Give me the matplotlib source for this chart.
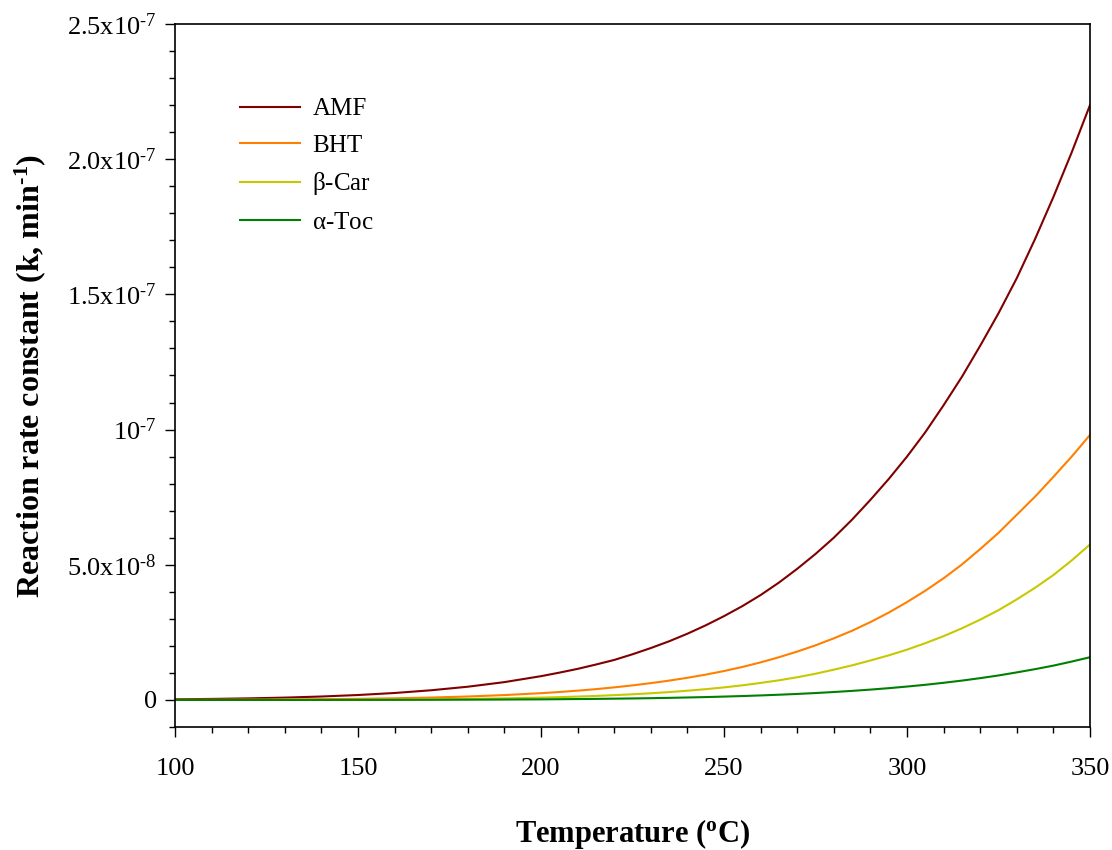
import matplotlib
matplotlib.use("Agg")
import matplotlib.pyplot as plt
from matplotlib.ticker import MultipleLocator

plt.rcParams['font.family'] = ['Liberation Serif', 'DejaVu Serif']
plt.rcParams['mathtext.fontset'] = 'custom'
plt.rcParams['mathtext.rm'] = 'Liberation Serif'
plt.rcParams['mathtext.it'] = 'Liberation Serif:italic'
plt.rcParams['mathtext.bf'] = 'Liberation Serif:bold'

# --- données ---
temps = [100, 110, 120, 130, 140, 150, 160, 170, 180, 190,
         200, 205, 210, 215, 220, 225, 230, 235, 240, 245, 250, 255, 260, 265,
         270, 275, 280, 285, 290, 295, 300, 305, 310, 315, 320, 325, 330, 335,
         340, 345, 350]
amf = [2.5e-10, 3.9e-10, 5.9e-10, 8.7e-10, 1.28e-9, 1.83e-9, 2.58e-9, 3.59e-9,
       4.9e-9, 6.6e-9,
       8.8e-9, 1.01e-8, 1.15e-8, 1.31e-8, 1.48e-8, 1.69e-8, 1.92e-8, 2.17e-8,
       2.45e-8, 2.76e-8, 3.1e-8, 3.47e-8, 3.88e-8, 4.34e-8, 4.85e-8, 5.4e-8,
       6.0e-8, 6.67e-8, 7.4e-8, 8.17e-8, 9.0e-8, 9.9e-8, 1.09e-7, 1.195e-7,
       1.31e-7, 1.43e-7, 1.56e-7, 1.705e-7, 1.86e-7, 2.025e-7, 2.2e-7]
bht = [4.3e-11, 7.0e-11, 1.14e-10, 1.79e-10, 2.76e-10, 4.16e-10, 6.2e-10,
       9.0e-10, 1.28e-9, 1.81e-9,
       2.51e-9, 2.94e-9, 3.44e-9, 4.0e-9, 4.66e-9, 5.39e-9, 6.23e-9, 7.15e-9,
       8.2e-9, 9.37e-9, 1.07e-8, 1.22e-8, 1.39e-8, 1.58e-8, 1.79e-8, 2.02e-8,
       2.28e-8, 2.56e-8, 2.88e-8, 3.23e-8, 3.62e-8, 4.04e-8, 4.5e-8, 5.01e-8,
       5.58e-8, 6.18e-8, 6.85e-8, 7.52e-8, 8.25e-8, 9.0e-8, 9.8e-8]
beta_car = [8e-12, 1.5e-11, 2.5e-11, 4.2e-11, 6.9e-11, 1.11e-10, 1.74e-10,
            2.7e-10, 4.0e-10, 6.0e-10,
            8.7e-10, 1.04e-9, 1.25e-9, 1.49e-9, 1.78e-9, 2.1e-9, 2.48e-9,
            2.91e-9, 3.42e-9, 3.99e-9, 4.65e-9, 5.41e-9, 6.3e-9, 7.27e-9,
            8.4e-9, 9.7e-9, 1.12e-8, 1.28e-8, 1.46e-8, 1.65e-8, 1.86e-8,
            2.1e-8, 2.36e-8, 2.65e-8, 2.97e-8, 3.32e-8, 3.72e-8, 4.15e-8,
            4.62e-8, 5.16e-8, 5.75e-8]
alpha_toc = [2e-12, 4e-12, 7e-12, 1.1e-11, 1.8e-11, 3.0e-11, 4.6e-11, 7.2e-11,
             1.08e-10, 1.6e-10,
             2.3e-10, 2.8e-10, 3.4e-10, 4.0e-10, 4.8e-10, 5.6e-10, 6.6e-10,
             7.8e-10, 9.2e-10, 1.07e-9, 1.25e-9, 1.45e-9, 1.68e-9, 1.94e-9,
             2.23e-9, 2.56e-9, 2.94e-9, 3.36e-9, 3.83e-9, 4.36e-9, 4.96e-9,
             5.61e-9, 6.35e-9, 7.16e-9, 8.07e-9, 9.06e-9, 1.02e-8, 1.14e-8,
             1.27e-8, 1.42e-8, 1.58e-8]

series_names = ['AMF', 'BHT', r'$\mathregular{\beta}$-Car', r'$\mathregular{\alpha}$-Toc']
series_colors = ['#800000', '#ff8000', '#c8c800', '#008000']

HY = '\u2010'  # trait court pour les exposants
ytick_values = [0, 5.0e-8, 1e-7, 1.5e-7, 2.0e-7, 2.5e-7]
ytick_labels = ['0', '5.0x10$^{\\mathregular{' + HY + '8}}$',
                '10$^{\\mathregular{' + HY + '7}}$',
                '1.5x10$^{\\mathregular{' + HY + '7}}$',
                '2.0x10$^{\\mathregular{' + HY + '7}}$',
                '2.5x10$^{\\mathregular{' + HY + '7}}$']

fig = plt.figure(figsize=(11.12, 8.5), dpi=100)
ax = fig.add_axes([0.1574, 0.1447, 0.8228, 0.8271])

for values, name, color in zip([amf, bht, beta_car, alpha_toc], series_names, series_colors):
    ax.plot(temps, values, color=color, linewidth=1.5, label=name)

ax.set_xlim(100, 350)
ax.set_ylim(-1e-8, 2.5e-7)
ax.set_xticks([100, 150, 200, 250, 300, 350])
ax.xaxis.set_minor_locator(MultipleLocator(10))
ax.set_yticks(ytick_values)
ax.set_yticklabels(ytick_labels)
ax.yaxis.set_minor_locator(MultipleLocator(1e-8))

ax.tick_params(which='both', direction='out', top=False, right=False, width=1)
ax.tick_params(which='major', length=7)
ax.tick_params(which='minor', length=4)
ax.tick_params(axis='x', which='major', labelsize=19, pad=15)
ax.tick_params(axis='y', which='major', labelsize=19, pad=6)
for sp in ax.spines.values():
    sp.set_linewidth(1.2)

ax.set_xlabel('Temperature ($\\mathregular{^o}$C)', fontsize=22, fontweight='bold', labelpad=27)
ax.set_ylabel('Reaction rate constant (k, min$\\mathregular{^{' + HY + '1}}$)', fontsize=23,
              fontweight='bold', labelpad=14)

ax.legend(loc='upper left', bbox_to_anchor=(0.071, 0.895), frameon=False, fontsize=18,
          handlelength=2.4, handletextpad=0.5, labelspacing=0.55, borderpad=0,
          borderaxespad=0)

plt.savefig('out.png', dpi=100)
